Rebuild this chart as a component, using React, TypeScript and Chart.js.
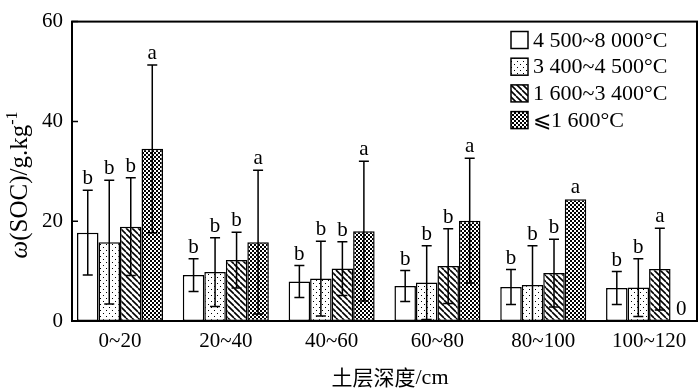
import React, { useEffect, useRef } from "react";
import { Chart, registerables } from "chart.js";

Chart.register(...registerables);

const categories = ["0~20", "20~40", "40~60", "60~80", "80~100", "100~120"];
const seriesLabels = ["4 500~8 000°C", "3 400~4 500°C", "1 600~3 400°C", "⩽1 600°C"];

const meanWarm = [17.7, 9.2, 7.9, 7.0, 6.8, 6.6];
const meanMild = [15.8, 9.8, 8.5, 7.7, 7.2, 6.7];
const meanCool = [18.9, 12.2, 10.5, 11.0, 9.6, 10.4];
const meanCold = [34.5, 15.8, 18.0, 20.1, 24.4, 0];

const sdWarm = [8.5, 3.3, 3.2, 3.1, 3.5, 3.3];
const sdMild = [12.4, 6.9, 7.5, 7.4, 7.9, 5.8];
const sdCool = [9.8, 5.6, 5.4, 7.5, 6.8, 8.2];
const sdCold = [16.8, 14.4, 14.0, 12.5, 0, 0];

const sigWarm = ["b", "b", "b", "b", "b", "b"];
const sigMild = ["b", "b", "b", "b", "b", "b"];
const sigCool = ["b", "b", "b", "b", "b", "a"];
const sigCold = ["a", "a", "a", "a", "a", "0"];

const yTicks = [0, 20, 40, 60];

const SERIF = "'Liberation Serif', 'Times New Roman', serif";
const CJK = "'Noto Sans CJK SC', sans-serif";

function makeFill(kind: string): CanvasPattern | string {
  if (kind === "solid") return "#ffffff";
  const c = document.createElement("canvas");
  const g = c.getContext("2d")!;
  if (kind === "dots") {
    c.width = 6;
    c.height = 6;
    g.fillStyle = "#fff";
    g.fillRect(0, 0, 6, 6);
    g.fillStyle = "#000";
    g.fillRect(1, 1, 1, 1);
    g.fillRect(4, 4, 1, 1);
  } else if (kind === "diag") {
    c.width = 6;
    c.height = 6;
    g.fillStyle = "#fff";
    g.fillRect(0, 0, 6, 6);
    g.strokeStyle = "#000";
    g.lineWidth = 1.6;
    g.beginPath();
    for (const k of [-6, 0, 6]) {
      g.moveTo(k, 0);
      g.lineTo(k + 6, 6);
    }
    g.stroke();
  } else {
    c.width = 4;
    c.height = 4;
    g.fillStyle = "#000";
    g.fillRect(0, 0, 4, 4);
    g.fillStyle = "#fff";
    g.fillRect(0, 0, 2, 2);
    g.fillRect(2, 2, 2, 2);
  }
  return g.createPattern(c, "repeat")!;
}

export default function App() {
  const ref = useRef<HTMLCanvasElement>(null);

  useEffect(() => {
    const canvas = ref.current!;
    const fills = ["solid", "dots", "diag", "check"].map(makeFill);
    const means = [meanWarm, meanMild, meanCool, meanCold];
    const sds = [sdWarm, sdMild, sdCool, sdCold];
    const sigs = [sigWarm, sigMild, sigCool, sigCold];

    const overlay = {
      id: "overlay",
      afterDatasetsDraw(chart: any) {
        const ctx: CanvasRenderingContext2D = chart.ctx;
        const ya = chart.scales.y;
        const area = chart.chartArea;
        ctx.save();
        means.forEach((m, di) => {
          const meta = chart.getDatasetMeta(di);
          meta.data.forEach((bar: any, i: number) => {
            const x = bar.x;
            const sd = sds[di][i];
            let topY = ya.getPixelForValue(m[i]);
            if (sd > 0) {
              const hi = m[i] + sd;
              const lo = m[i] - sd;
              const yHi = ya.getPixelForValue(hi);
              const yLo = ya.getPixelForValue(Math.max(lo, 0));
              ctx.strokeStyle = "#000";
              ctx.lineWidth = 1.5;
              ctx.beginPath();
              ctx.moveTo(x, yHi);
              ctx.lineTo(x, yLo);
              ctx.moveTo(x - 5, yHi);
              ctx.lineTo(x + 5, yHi);
              if (lo > 0) {
                ctx.moveTo(x - 5, yLo);
                ctx.lineTo(x + 5, yLo);
              }
              ctx.stroke();
              topY = yHi;
            }
            ctx.fillStyle = "#000";
            ctx.font = `21px ${SERIF}`;
            ctx.textAlign = "center";
            ctx.textBaseline = "alphabetic";
            ctx.fillText(sigs[di][i], x, topY - 6);
          });
        });
        // frame
        ctx.strokeStyle = "#000";
        ctx.lineWidth = 2;
        ctx.strokeRect(area.left, area.top, area.right - area.left, area.bottom - area.top);
        // inward ticks
        ctx.lineWidth = 1.5;
        ctx.beginPath();
        yTicks.forEach((v) => {
          const y = ya.getPixelForValue(v);
          ctx.moveTo(area.left, y);
          ctx.lineTo(area.left + 6, y);
        });
        ctx.stroke();
        ctx.restore();
      },
      afterDraw(chart: any) {
        const ctx: CanvasRenderingContext2D = chart.ctx;
        ctx.save();
        ctx.fillStyle = "#000";
        // y title
        ctx.translate(19, 185);
        ctx.rotate(-Math.PI / 2);
        const F = 25;
        const parts = [
          { t: "ω", f: `italic ${F}px ${SERIF}`, dy: 0 },
          { t: "(SOC)/g.kg", f: `${F}px ${SERIF}`, dy: 0 },
          { t: "-1", f: `${Math.round(F * 0.62)}px ${SERIF}`, dy: -F * 0.42 },
        ];
        let total = 0;
        parts.forEach((p) => {
          ctx.font = p.f;
          total += ctx.measureText(p.t).width;
        });
        let cx = -total / 2;
        ctx.textBaseline = "alphabetic";
        ctx.textAlign = "left";
        parts.forEach((p) => {
          ctx.font = p.f;
          ctx.fillText(p.t, cx, F * 0.33 + p.dy);
          cx += ctx.measureText(p.t).width;
        });
        ctx.restore();

        // x title
        ctx.save();
        ctx.fillStyle = "#000";
        ctx.textBaseline = "middle";
        ctx.textAlign = "left";
        const cjk = "土层深度";
        const unit = "/cm";
        ctx.font = `21px ${CJK}`;
        const w1 = ctx.measureText(cjk).width;
        ctx.font = `22px ${SERIF}`;
        const w2 = ctx.measureText(unit).width;
        const startX = 390 - (w1 + w2) / 2;
        ctx.font = `21px ${CJK}`;
        ctx.fillText(cjk, startX, 377);
        ctx.font = `22px ${SERIF}`;
        ctx.fillText(unit, startX + w1, 378);

        // legend
        ctx.font = `22px ${SERIF}`;
        seriesLabels.forEach((lab, i) => {
          const cy = 40 + i * 26.7;
          ctx.fillStyle = fills[i] as any;
          ctx.fillRect(511, cy - 8.5, 17, 17);
          ctx.strokeStyle = "#000";
          ctx.lineWidth = 1.5;
          ctx.strokeRect(511, cy - 8.5, 17, 17);
          ctx.fillStyle = "#000";
          ctx.fillText(lab, 533, cy + 1);
        });
        ctx.restore();
      },
    };

    const datasets = means.map((m, di) => ({
      label: seriesLabels[di],
      data: m.map((v, i) => ({ x: i, y: v })),
      backgroundColor: fills[di] as any,
      borderColor: "#000",
      borderWidth: 1.5,
      borderSkipped: false,
      categoryPercentage: 0.813,
      barPercentage: 1,
    }));

    const chart = new Chart(canvas, {
      type: "bar",
      data: { datasets } as any,
      options: {
        responsive: false,
        animation: false,
        layout: { padding: { top: 13, right: 3, left: 0, bottom: 0 } },
        plugins: { legend: { display: false }, tooltip: { enabled: false } },
        scales: {
          x: {
            type: "linear",
            offset: false,
            min: -0.4537,
            max: 5.453,
            grid: { display: false, drawTicks: false },
            border: { display: false },
            ticks: {
              stepSize: 1,
              includeBounds: false,
              autoSkip: false,
              maxRotation: 0,
              color: "#000",
              font: { family: SERIF, size: 21 },
              padding: 8,
              callback: (v: any) => {
                const i = Math.round(Number(v));
                return Math.abs(Number(v) - i) < 1e-6 && categories[i] ? categories[i] : "";
              },
            },
            afterFit: (s: any) => {
              s.height = 67;
            },
          },
          y: {
            min: 0,
            max: 60,
            grid: { display: false, drawTicks: false },
            border: { display: false },
            ticks: {
              stepSize: 20,
              color: "#000",
              font: { family: SERIF, size: 21 },
              padding: 9,
            },
            afterFit: (s: any) => {
              s.width = 72;
            },
          },
        },
      } as any,
      plugins: [overlay],
    });

    return () => chart.destroy();
  }, []);

  return (
    <div style={{ position: "absolute", left: 0, top: 0, width: 700, height: 388, background: "#fff" }}>
      <canvas ref={ref} width={700} height={388} style={{ width: 700, height: 388, display: "block" }} />
    </div>
  );
}
